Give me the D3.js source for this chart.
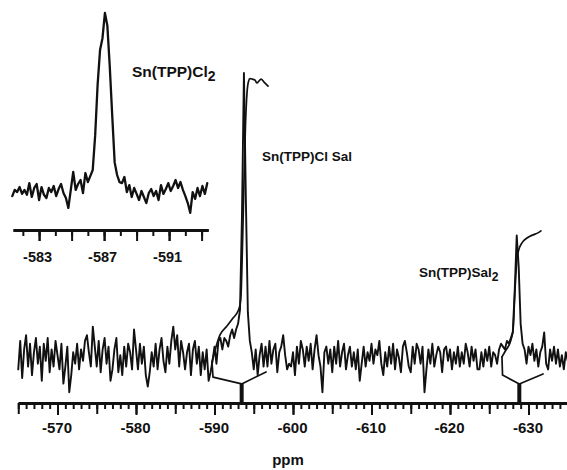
<!DOCTYPE html>
<html><head><meta charset="utf-8">
<script src="https://cdn.jsdelivr.net/npm/d3@7"></script>
<style>
html,body{margin:0;padding:0;background:#fff;}
svg{display:block;font-family:"Liberation Sans",Arial,Helvetica,sans-serif;font-weight:bold;}
</style></head><body>
<svg id="chart" width="567" height="470"></svg>
<script>
// ---- main 119Sn spectrum (uniform sampling, ppm) ----
const mainStartPpm = -565.0;
const mainStepPpm = -0.25;
const mainIntensity = [
 -4, 6, -7, 3, 8, -3, 5, -6, 2, 7,
 -2, 4, -8, 5, -1, 7, -5, 3, -3, 6,
 1, -4, 5, -9, -3, 4, -12, -6, 2, -2,
 5, -4, 3, -1, 6, 8, 2, -3, 11, 4,
 -3, 6, -5, 3, 7, -2, 4, -8, -4, 3,
 7, -5, 1, -6, 4, -3, 5, 2, -4, 10,
 3, -4, 5, -2, 4, -6, -10, -5, 2, -3,
 5, -4, 3, 7, -1, -5, 4, -2, 6, 11,
 3, 8, -3, 6, 2, -4, 2, 5, -6, 3,
 6, -2, 4, -6, 2, -4, 3, -8, -5, -1,
 4, -2, 6, 7, 3, 7, 6, 4, 8, 10,
 7, 10, 12, 17, 50, 100, 55, 16, 6, 2,
 -4, 3, -6, 1, 5, -3, 4, -3, 6, -2,
 3, 5, -5, 2, 4, 8, 1, -4, -2, -3,
 2, -6, 4, -2, 6, 3, -3, 4, -1, 5,
 -4, 3, 8, 1, -3, -12, 2, 4, -2, 3,
 -5, 4, -2, 6, -3, 2, 5, -4, 1, 4,
 -3, 2, -4, 3, -8, -2, 4, -3, 2, -1,
 5, -2, 3, 1, 6, -2, -6, 2, -3, 4,
 -2, 5, -4, 3, 0, -5, 4, 6, 2, -3,
 -5, 4, -2, 5, 3, -2, 4, -12, -4, 3,
 -2, 5, -3, 1, 4, 2, -5, 3, 4, -1,
 3, -4, 2, -2, 4, -3, 2, -2, 5, 2,
 -3, 4, -1, 3, -4, -4, 2, -3, 3, -1,
 4, -3, 2, 1, -2, 3, 5, 4, 3, 6,
 5, 7, 9, 24, 43, 32, 12, 5, 3, -2,
 4, 1, 5, -1, 3, -3, 2, 4, 9, -2,
 -4, 3, -1, 4, -2, 3, -3, 1, -4, 2,
 -1
];

// ---- integral traces ----
const integralMainPpm = [-589.68, -590.70, -591.59, -592.36, -593.00, -593.25, -593.38, -593.57, -593.76, -593.95, -594.14, -594.33, -594.52, -594.78, -595.16, -595.41, -595.67, -595.92, -596.31, -596.82];
const integralMainValue = [-1.4, 8.1, 11.2, 14.0, 16.5, 18.6, 22, 40, 62, 82, 93, 97, 98, 97.9, 97.5, 96.5, 97.2, 97.9, 96.8, 95.4];
const integralSal2Ppm = [-626.62, -627.13, -627.64, -628.03, -628.28, -628.54, -628.79, -629.17, -629.81, -630.57, -631.21, -631.59];
const integralSal2Value = [0.4, 2.8, 5.3, 9.8, 23.9, 35.1, 38.2, 40.4, 42.1, 43.2, 43.9, 44.6];

// ---- integral region brackets (left top, left bottom, centre, right end) ----
const bracketMainPpm = [-589.68, -589.81, -593.46, -596.56];
const bracketMainValue = [-1.4, -6.7, -9.1, -4.9];
const bracketSal2Ppm = [-626.62, -626.69, -628.83, -631.85];
const bracketSal2Value = [0.4, -6.0, -9.1, -5.6];

// ---- inset spectrum Sn(TPP)Cl2 ----
const insetStartPpm = -581.35;
const insetStepPpm = -0.15;
const insetIntensity = [
 -1.7, 1.7, 0.5, 3.3, -0.5, 1.7, -1, 5.5, -2.2, 2.8,
 5, -3.9, 3.3, -1, -2.8, 2.8, 0.5, 3.9, -1.7, 2.2,
 5, 0, -2.8, -8.3, 1.7, 11.7, 1.7, 5, 7.2, 0,
 11.1, 6.1, 9.4, 12.8, 32, 60, 79.4, 86, 100, 93,
 70, 43, 17, 10, 6, 5.5, 8.9, 0.5, 4.4, -2.2,
 2.8, -0.5, -3.9, 1.1, -2.2, -5.6, 0, 2.2, -1.7, 1.1,
 -3.9, 4.4, -0.5, 2.2, 5.5, 1.1, 3.9, 7.2, 2.8, 6.1,
 1.7, -1.7, -5.6, -11, 0.5, -3.3, 2.8, -1.7, 3.9, -0.5,
 5.5
];

// ---- axes ----
const mainTickLabels = [-570, -580, -590, -600, -610, -620, -630];
const insetTickLabels = [-583, -587, -591];
const axisTitle = "ppm";

// ---- annotations ----
const peakLabels = [
  {main: "Sn(TPP)Cl", sub: "2", x: 132, y: 77, size: 15.5},
  {main: "Sn(TPP)Cl Sal", sub: "", x: 262, y: 161, size: 13.5},
  {main: "Sn(TPP)Sal", sub: "2", x: 419, y: 277, size: 13.5}
];

const svg = d3.select("#chart");

// scales
const xMain = d3.scaleLinear().domain([-565, -635]).range([18.25, 567.75]);
const yMain = d3.scaleLinear().domain([0, 100]).range([358, 73]);
const xInset = d3.scaleLinear().domain([-581.4, -593.4]).range([13.1, 208.1]);
const yInset = d3.scaleLinear().domain([0, 100]).range([193, 13]);
const mainAxisY = 403, insetAxisY = 230;

const mainData = mainIntensity.map((v, i) => [mainStartPpm + i * mainStepPpm, v]);
const insetData = insetIntensity.map((v, i) => [insetStartPpm + i * insetStepPpm, v]);

const lineMain = d3.line().x(d => xMain(d[0])).y(d => yMain(d[1]));
const lineInset = d3.line().x(d => xInset(d[0])).y(d => yInset(d[1]));
const lineIntegral = d3.line().x(d => xMain(d[0])).y(d => yMain(d[1])).curve(d3.curveMonotoneX);

function path(data, gen, w) {
  svg.append("path").datum(data).attr("d", gen)
    .attr("fill", "none").attr("stroke", "#111").attr("stroke-width", w)
    .attr("stroke-linejoin", "round").attr("stroke-linecap", "round");
}

path(mainData, lineMain, 1.9);
path(integralMainPpm.map((p, i) => [p, integralMainValue[i]]), lineIntegral, 1.7);
path(integralSal2Ppm.map((p, i) => [p, integralSal2Value[i]]), lineIntegral, 1.7);

function bracket(ppms, vals) {
  const pts = ppms.map((p, i) => [p, vals[i]]);
  path(pts, lineMain, 1.7);
  svg.append("line")
    .attr("x1", xMain(ppms[2])).attr("x2", xMain(ppms[2]))
    .attr("y1", yMain(vals[2])).attr("y2", mainAxisY)
    .attr("stroke", "#111").attr("stroke-width", 4);
}
bracket(bracketMainPpm, bracketMainValue);
bracket(bracketSal2Ppm, bracketSal2Value);

path(insetData, lineInset, 2.3);

// main axis
const fmt = d => String(d);
const gMain = svg.append("g").attr("transform", `translate(0,${mainAxisY})`);
gMain.append("g").call(d3.axisBottom(xMain).tickValues(d3.range(-565, -636, -1)).tickSize(6).tickSizeOuter(0).tickFormat(""));
gMain.append("g").call(d3.axisBottom(xMain).tickValues(d3.range(-565, -636, -5)).tickSize(11).tickSizeOuter(0).tickFormat(""));
const gLab = gMain.append("g").call(d3.axisBottom(xMain).tickValues(mainTickLabels).tickSize(12).tickSizeOuter(0).tickFormat(fmt));
gLab.selectAll("text").attr("y", 30).attr("dy", 0).attr("dx", -1).style("font-size", "15px").style("font-weight", "bold").attr("fill", "#111").style("font-family", '"Liberation Sans",Arial,sans-serif');
gMain.selectAll(".domain").attr("stroke-width", 3).attr("stroke", "#111");
gMain.selectAll(".tick line").attr("stroke-width", 2).attr("stroke", "#111");

// inset axis
const gIn = svg.append("g").attr("transform", `translate(0,${insetAxisY})`);
gIn.append("g").call(d3.axisBottom(xInset).tickValues(d3.range(-582, -594, -1)).tickSize(6).tickSizeOuter(0).tickFormat(""));
gIn.append("g").call(d3.axisBottom(xInset).tickValues(d3.range(-583, -594, -2)).tickSize(11).tickSizeOuter(0).tickFormat(""));
const gInLab = gIn.append("g").call(d3.axisBottom(xInset).tickValues(insetTickLabels).tickSize(11).tickSizeOuter(0).tickFormat(fmt));
gInLab.selectAll("text").attr("y", 32).attr("dy", 0).attr("dx", -2).style("font-size", "14.5px").style("font-weight", "bold").attr("fill", "#111").style("font-family", '"Liberation Sans",Arial,sans-serif');
gIn.selectAll(".domain").attr("stroke-width", 2.6).attr("stroke", "#111");
gIn.selectAll(".tick line").attr("stroke-width", 2).attr("stroke", "#111");

// axis title
svg.append("text").attr("x", 288).attr("y", 465).attr("text-anchor", "middle")
  .attr("fill", "#111").style("font-size", "15px").text(axisTitle);

// peak labels
peakLabels.forEach(l => {
  const t = svg.append("text").attr("x", l.x).attr("y", l.y).attr("fill", "#111").style("font-size", l.size + "px");
  t.append("tspan").text(l.main);
  if (l.sub) t.append("tspan").attr("dy", 4).style("font-size", (l.size * 0.9) + "px").text(l.sub);
});
</script>
</body></html>
